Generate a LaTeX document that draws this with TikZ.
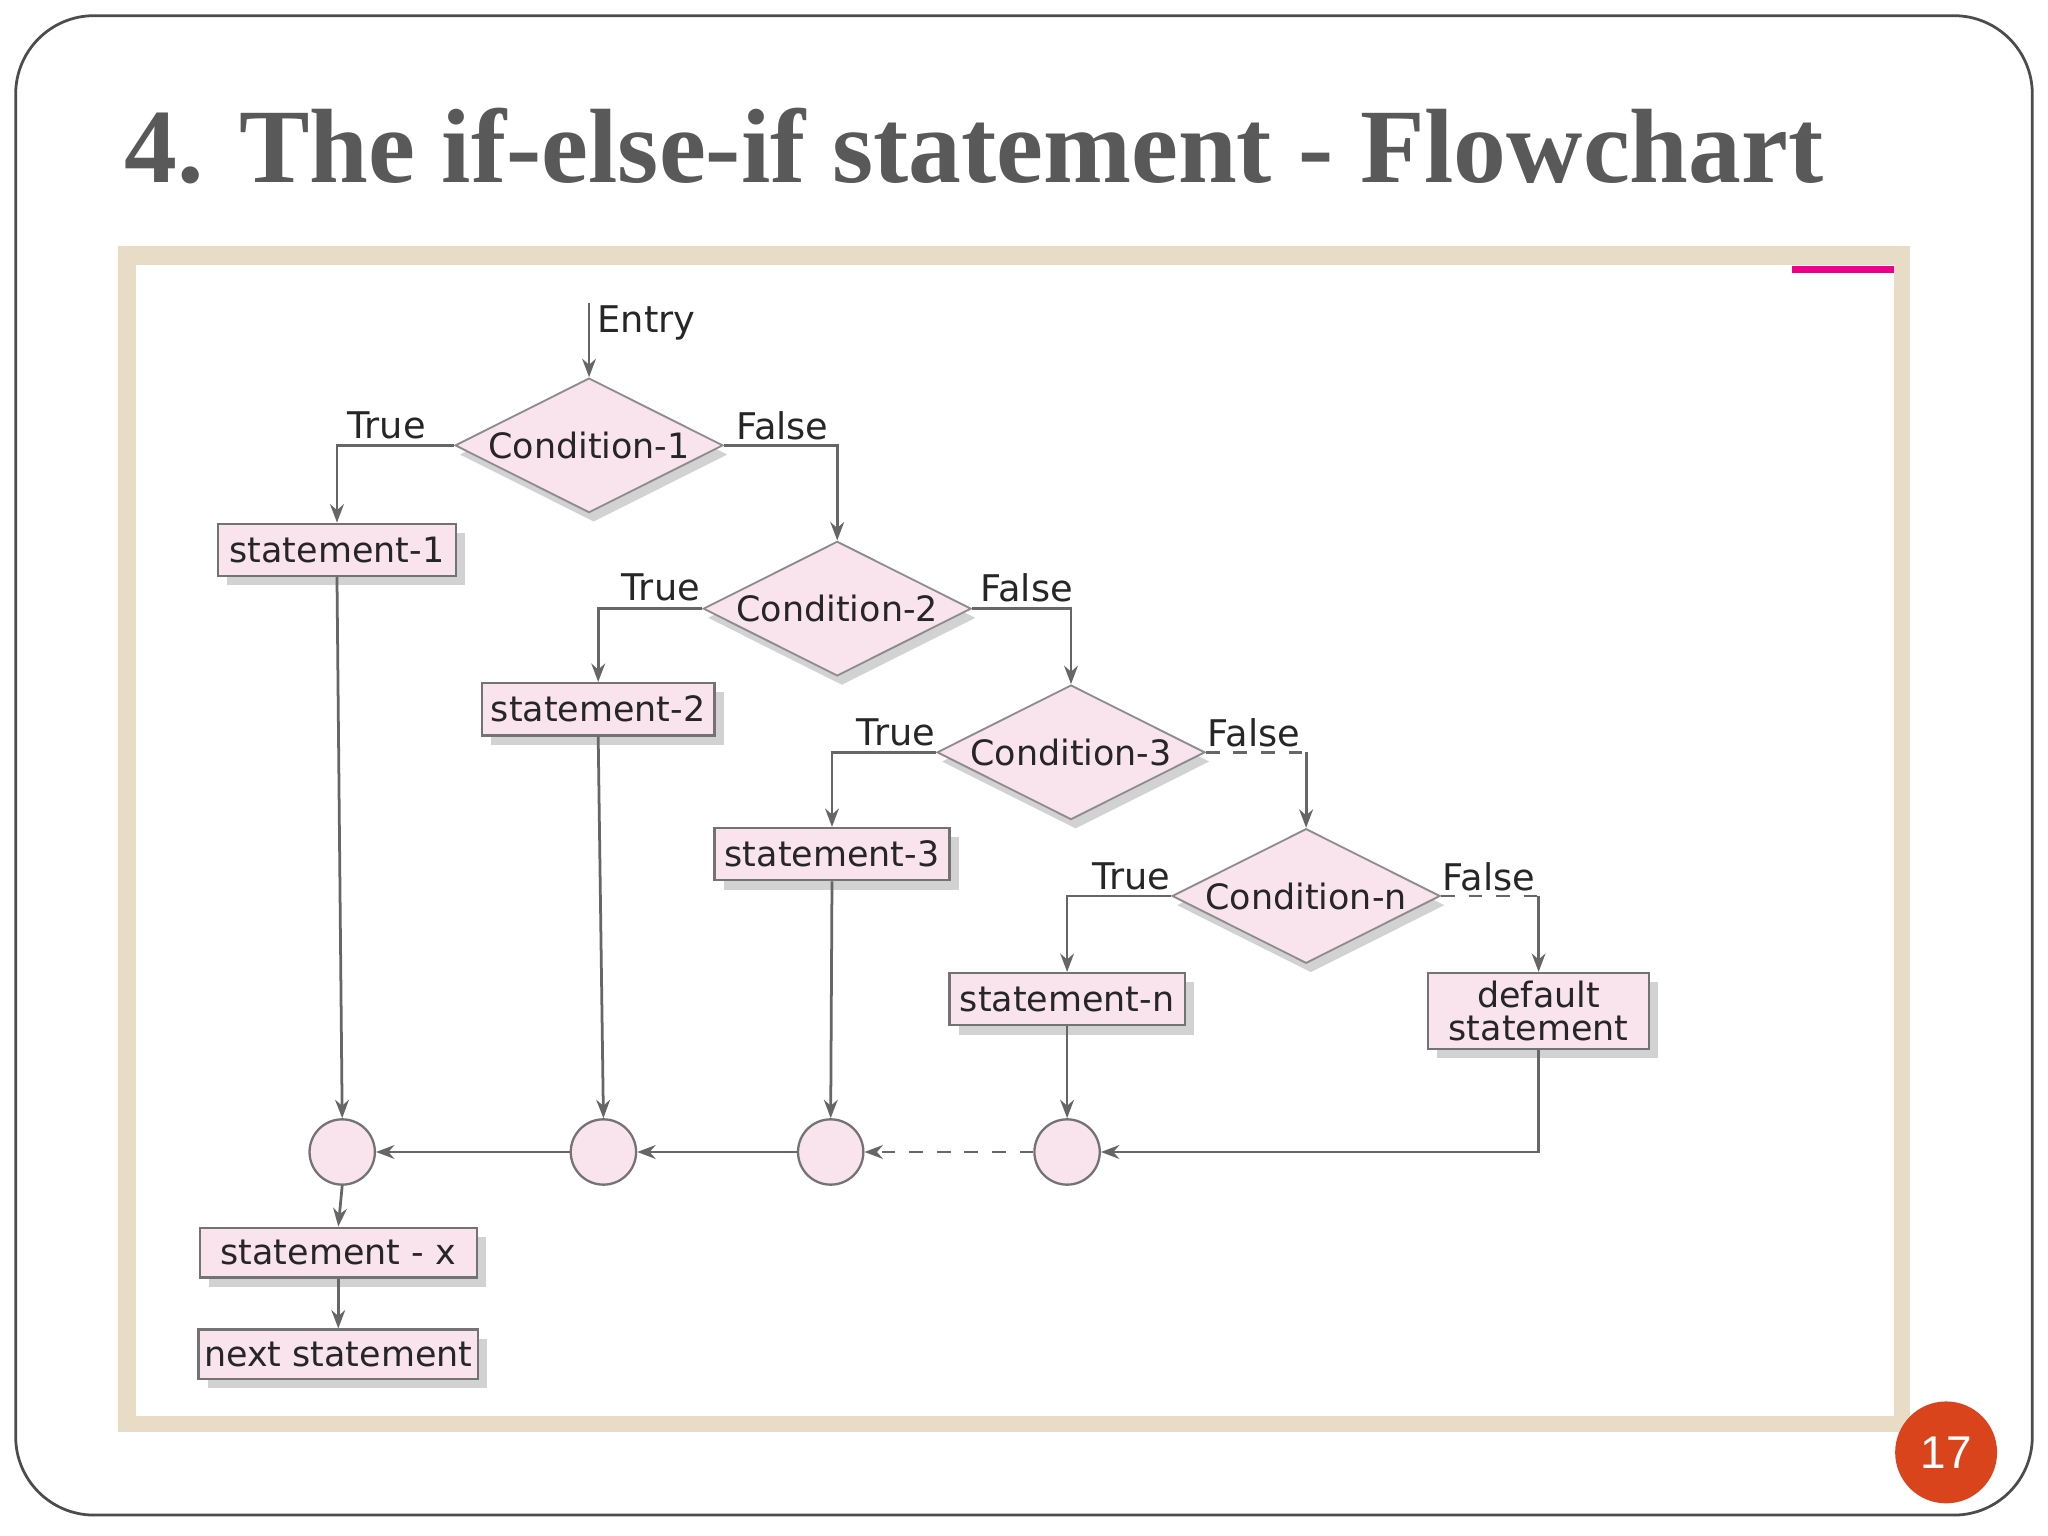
\documentclass[tikz,border=0pt]{standalone}
\usepackage{fontspec}
\setmainfont{Liberation Serif}
\newfontfamily\djsans{DejaVu Sans}
\usetikzlibrary{shapes.geometric,arrows.meta,shadows}
\definecolor{pinkfill}{HTML}{F9E3EC}
\definecolor{framebg}{HTML}{E8DCC6}
\definecolor{pnum}{HTML}{D9441C}
\begin{document}
\begin{tikzpicture}[x=0.01cm,y=-0.01cm,
  every node/.style={font=\djsans\fontsize{7.6}{9}\selectfont,text=black!85},
  box/.style={draw=black!55,fill=pinkfill,line width=0.5pt,drop shadow={shadow xshift=2pt,shadow yshift=-2pt,opacity=0.35},inner sep=0pt,align=center},
  dia/.style={diamond,draw=black!45,fill=pinkfill,line width=0.4pt,aspect=2,inner sep=0pt,minimum width=2.05cm,minimum height=1.03cm,drop shadow={shadow xshift=1pt,shadow yshift=-2pt,opacity=0.35}},
  jn/.style={circle,draw=black!55,fill=pinkfill,minimum size=0.5cm,inner sep=0pt,line width=0.5pt},
  ln/.style={draw=black!60,line width=0.6pt},
  ar/.style={ln,-{Stealth[length=4pt,width=3pt]}},
  lbl/.style={font=\djsans\fontsize{8}{9}\selectfont}]
\useasboundingbox (0,0) rectangle (1568,1176);
\fill[white] (0,0) rectangle (1568,1176);
\draw[black!70,line width=0.6pt,rounded corners=0.6cm] (12,12) rectangle (1556,1160);
\node[anchor=base west,font=\bfseries\fontsize{23}{26}\selectfont,text=black!65,inner sep=0pt] (title) at (95,140) {4. The if-else-if statement - Flowchart};
\fill[framebg] (90,188) rectangle (1462,1096);
\fill[white] (104,203) rectangle (1450,1084);
\draw[magenta,line width=1.5pt] (1372,206) -- (1450,206);
\node[circle,fill=pnum,minimum size=0.78cm,inner sep=0pt,text=white,font=\fontspec{Liberation Sans}\fontsize{10}{12}\selectfont] (pg) at (1490,1112) {17};

\coordinate (entry) at (451,232);
\node[dia] (c1) at (451,341) {Condition-1};
\node[dia] (c2) at (641,466) {Condition-2};
\node[dia] (c3) at (820,576) {Condition-3};
\node[dia] (cn) at (1000,686) {Condition-n};
\node[box,minimum width=1.82cm,minimum height=0.4cm] (s1) at (258,421) {statement-1};
\node[box,minimum width=1.78cm,minimum height=0.4cm] (s2) at (458,543) {statement-2};
\node[box,minimum width=1.80cm,minimum height=0.4cm] (s3) at (637,654) {statement-3};
\node[box,minimum width=1.80cm,minimum height=0.4cm] (sn) at (817,765) {statement-n};
\node[box,minimum width=1.69cm,minimum height=0.58cm,text width=1.6cm] (sd) at (1178,774) {default\\[-2pt]statement};
\node[box,minimum width=2.12cm,minimum height=0.38cm] (sx) at (259,959) {statement - x};
\node[box,minimum width=2.14cm,minimum height=0.38cm] (ns) at (259,1037) {next statement};
\node[jn] (j1) at (262,882) {};
\node[jn] (j2) at (462,882) {};
\node[jn] (j3) at (636,882) {};
\node[jn] (j4) at (817,882) {};

\draw[ar] (entry) -- (c1.north);
\node[lbl] (le) at (495,247) {Entry};
\draw[ar] (c1.west) -| (s1.north);
\draw[ar] (c1.east) -| (c2.north);
\draw[ar] (c2.west) -| (s2.north);
\draw[ar] (c2.east) -| (c3.north);
\draw[ar] (c3.west) -| (s3.north);
\draw[ln,dashed] (c3.east) -- (1000,576);
\draw[ar] (1000,576) -- (cn.north);
\draw[ar] (cn.west) -| (sn.north);
\draw[ln,dashed] (cn.east) -- (1178,686);
\draw[ar] (1178,686) -- (sd.north);
\node[lbl] at (296,326) {True};
\node[lbl] at (599,326) {False};
\node[lbl] at (506,450) {True};
\node[lbl] at (786,450) {False};
\node[lbl] at (686,561) {True};
\node[lbl] at (960,561) {False};
\node[lbl] at (866,671) {True};
\node[lbl] at (1140,671) {False};
\draw[ar] (s1.south) -- (j1.north);
\draw[ar] (s2.south) -- (j2.north);
\draw[ar] (s3.south) -- (j3.north);
\draw[ar] (sn.south) -- (j4.north);
\draw[ar] (sd.south) |- (j4.east);
\draw[ar,dashed] (j4.west) -- (j3.east);
\draw[ar] (j3.west) -- (j2.east);
\draw[ar] (j2.west) -- (j1.east);
\draw[ar] (j1.south) -- (sx.north);
\draw[ar] (sx.south) -- (ns.north);
\end{tikzpicture}
\end{document}
